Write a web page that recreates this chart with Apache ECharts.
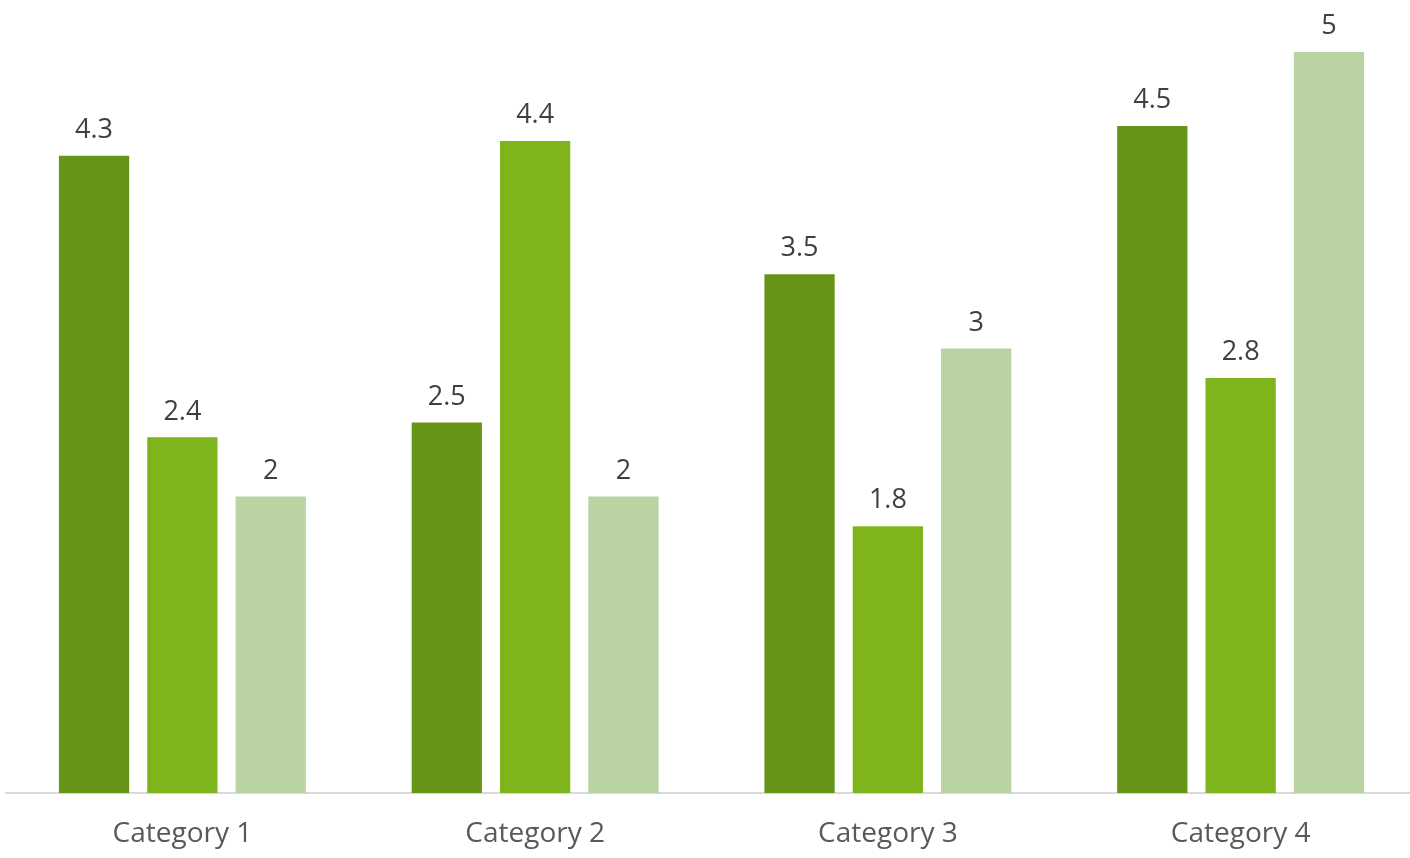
<!DOCTYPE html>
<html><head><meta charset="utf-8">
<script src="https://cdn.jsdelivr.net/npm/echarts@6/dist/echarts.min.js"></script>
<style>html,body{margin:0;padding:0;background:#fff}#c{width:1410px;height:858px}</style>
</head><body><div id="c"></div>
<script>
const categories = ['Category 1', 'Category 2', 'Category 3', 'Category 4'];
const series1 = [4.3, 2.5, 3.5, 4.5];
const series2 = [2.4, 4.4, 1.8, 2.8];
const series3 = [2, 2, 3, 5];
const colors = ['#669417', '#7fb41d', '#bad3a3'];

const chart = echarts.init(document.getElementById('c'));
const labelStyle = {show: true, position: 'top', distance: 12, color: '#404040', fontSize: 27, fontFamily: 'Open Sans'};
chart.setOption({
  animation: false,
  grid: {left: 6, width: 1411, top: 52, bottom: 65, containLabel: false, outerBoundsMode: 'none'},
  xAxis: {type: 'category', data: categories,
    axisLine: {lineStyle: {color: '#d9d9d9', width: 2}}, axisTick: {show: false},
    axisLabel: {color: '#595959', fontSize: 28, fontFamily: 'Open Sans', margin: 27}},
  yAxis: {type: 'value', min: 0, max: 5, show: false, splitLine: {show: false}},
  series: [series1, series2, series3].map((d, i) => ({
    type: 'bar', data: d, barGap: '25.7%', barCategoryGap: '30%',
    itemStyle: {color: colors[i]}, label: labelStyle
  }))
});
</script></body></html>
